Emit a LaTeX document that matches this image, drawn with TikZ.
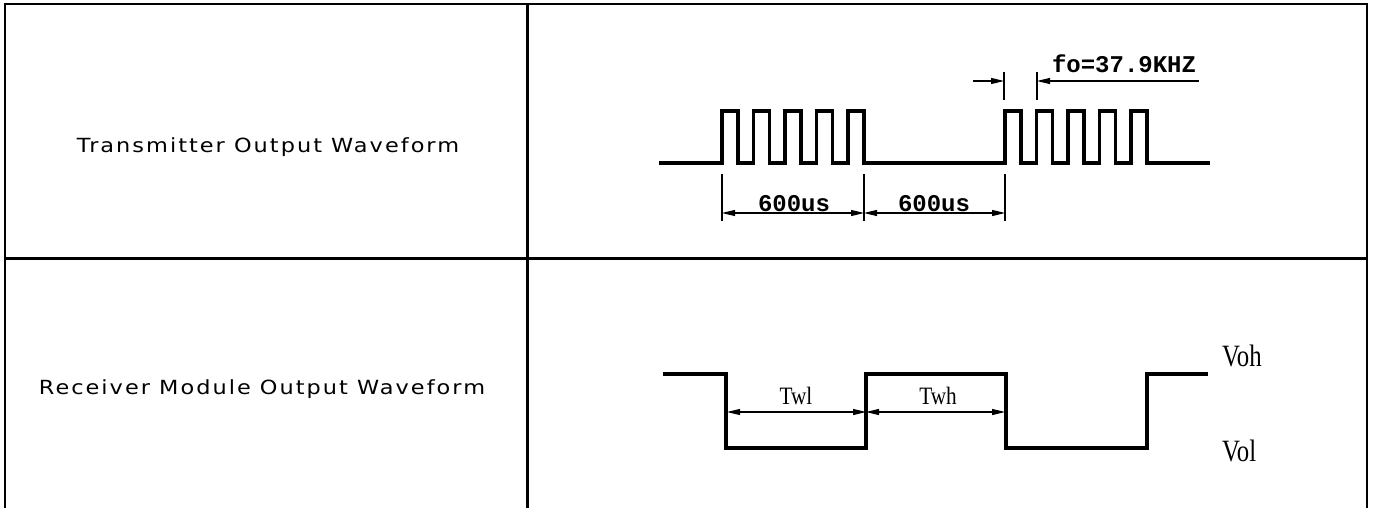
\documentclass[tikz,border=0pt]{standalone}
\usepackage{fontspec}
\setmainfont{DejaVu Sans}
\newfontfamily\lblfont[LetterSpace=9]{DejaVu Sans}
\newfontfamily\cadfont{Liberation Mono}
\newfontfamily\serfont{Liberation Serif}
\usetikzlibrary{arrows.meta}
\tikzset{
  frame/.style={line width=2pt,black},
  divider/.style={line width=3pt,black},
  wave/.style={line width=3.6pt,black,line join=miter},
  dim/.style={line width=1.2pt,black},
  tip/.tip={Triangle[length=13pt,width=6pt]},
  dimarrow/.style={dim,tip-tip},
  lbl/.style={font=\lblfont\fontsize{19.5}{23}\selectfont,xscale=1.15,anchor=base,inner sep=0pt},
  cadlbl/.style={font=\cadfont\bfseries\fontsize{24}{27}\selectfont,anchor=base,inner sep=0pt},
  vlbl/.style={font=\serfont\fontsize{31}{34}\selectfont,xscale=0.8,anchor=base west,inner sep=0pt},
  twlbl/.style={font=\serfont\fontsize{25}{28}\selectfont,xscale=0.85,anchor=base,inner sep=0pt}
}
\begin{document}
\begin{tikzpicture}[x=1pt,y=-1pt]
\useasboundingbox (0,0) rectangle (1375,508);
% table
\draw[frame] (5,508) -- (5,4) -- (1367,4) -- (1367,508);
\draw[divider] (527,4) -- (527,508);
\draw[divider] (5,258) -- (1367,258);
% left labels
\node[lbl] (txlabel) at (268,152) {Transmitter Output Waveform};
\node[lbl] (rxlabel) at (262,394) {Receiver Module Output Waveform};
% transmitter waveform
\draw[wave] (659,163)
  foreach \s in {722,753.5,785,816.5,848} { -- (\s,163) -- (\s,111) -- (\s+16,111) -- (\s+16,163) }
  -- (1005,163)
  foreach \s in {1005,1036.5,1068,1099.5,1131} { -- (\s,163) -- (\s,111) -- (\s+16,111) -- (\s+16,163) }
  -- (1210,163);
% 600us dimensions
\coordinate (e1t) at (722,174); \coordinate (e1b) at (722,221);
\coordinate (e2t) at (864,174); \coordinate (e2b) at (864,221);
\coordinate (e3t) at (1005,174); \coordinate (e3b) at (1005,221);
\draw[dim] (e1t) -- (e1b);
\draw[dim] (e2t) -- (e2b);
\draw[dim] (e3t) -- (e3b);
\coordinate (d1) at (722,213); \coordinate (d2) at (864,213); \coordinate (d3) at (1005,213);
\draw[dimarrow] (d1) -- (d2);
\draw[dimarrow] (d2) -- (d3);
\node[cadlbl] (t600a) at (794,211) {600us};
\node[cadlbl] (t600b) at (934,211) {600us};
% fo dimension
\coordinate (f1t) at (1004,72); \coordinate (f1b) at (1004,100);
\coordinate (f2t) at (1037,72); \coordinate (f2b) at (1037,100);
\draw[dim] (f1t) -- (f1b);
\draw[dim] (f2t) -- (f2b);
\coordinate (fa) at (973,81); \coordinate (fb) at (1004,81);
\coordinate (fc) at (1037,81); \coordinate (fd) at (1199,81);
\draw[dim,-tip] (fa) -- (fb);
\draw[dim,tip-] (fc) -- (fd);
\node[cadlbl] (fo) at (1124,73) {fo=37.9KHZ};
% receiver waveform
\draw[wave] (663,374) -- (726,374) -- (726,448) -- (866,448) -- (866,374)
  -- (1006,374) -- (1006,448) -- (1147,448) -- (1147,374) -- (1208,374);
\coordinate (w1) at (727,412); \coordinate (w2) at (866,412); \coordinate (w3) at (1005,412);
\draw[dimarrow] (w1) -- (w2);
\draw[dimarrow] (w2) -- (w3);
\node[twlbl] (twl) at (796,404) {Twl};
\node[twlbl] (twh) at (938,404) {Twh};
\node[vlbl] (voh) at (1222,366) {Voh};
\node[vlbl] (vol) at (1222,461) {Vol};
\end{tikzpicture}
\end{document}
